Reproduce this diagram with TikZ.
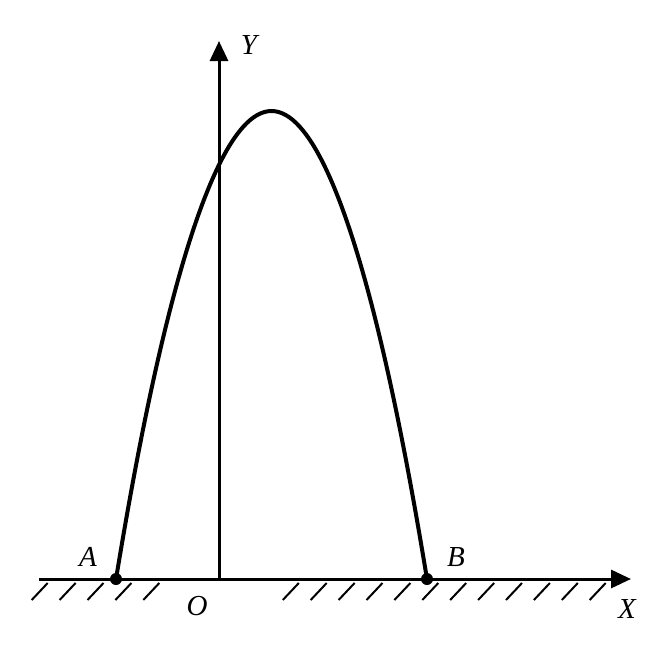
\documentclass[tikz,border=0pt]{standalone}
\usepackage{fontspec}
\setmainfont{Liberation Serif}
\usetikzlibrary{arrows.meta}
\begin{document}
\begin{tikzpicture}[x=0.5pt,y=-0.5pt,
  axis/.style={line width=1.5pt,-{Triangle[length=10pt,width=9pt]}},
  curve/.style={line width=2pt},
  hatch/.style={line width=1pt},
  lbl/.style={font=\fontsize{14.5}{16}\selectfont\itshape,inner sep=0pt},
  dot/.style={circle,fill=black,inner sep=0pt,minimum size=6pt}]
\useasboundingbox (0,0) rectangle (660,660);
\coordinate (xs) at (39,579);
\coordinate (xe) at (631,579);
\coordinate (O) at (219,579);
\coordinate (ye) at (219,41);
\coordinate (V) at (271.5,111);
\node[dot] (A) at (116,579) {};
\node[dot] (B) at (427,579) {};
% hatching
\foreach \k in {0,...,4,9,10,...,20}{
  \draw[hatch] ({31.7+27.9*\k},600) -- ({47.7+27.9*\k},583);
}
\draw[axis] (xs) -- (xe);
\draw[axis] (O) -- (ye);
\draw[curve] (A.center) parabola bend (V) (B.center);
\node[lbl] (lA) at (88,557) {A};
\node[lbl] (lB) at (456,557) {B};
\node[lbl] (lO) at (197,606) {O};
\node[lbl] (lY) at (249,45) {Y};
\node[lbl] (lX) at (627,609) {X};
\end{tikzpicture}
\end{document}
